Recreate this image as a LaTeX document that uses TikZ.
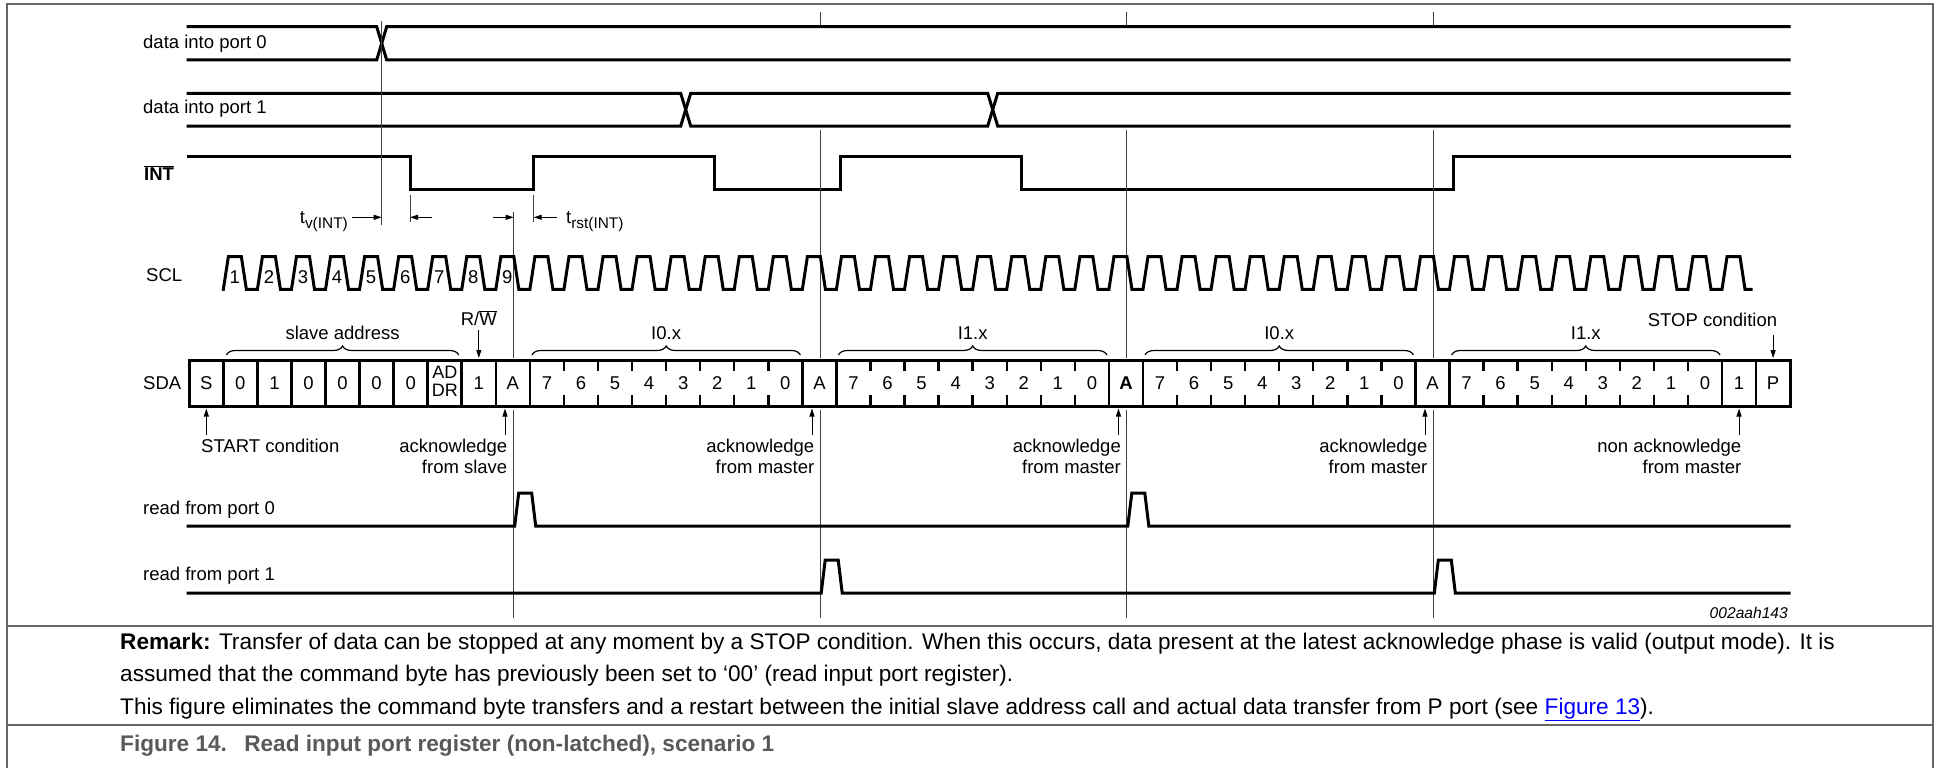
\documentclass[tikz,border=0pt]{standalone}
\usepackage{fontspec}
\setmainfont{Liberation Sans}
\usetikzlibrary{arrows.meta,decorations.pathreplacing}
\begin{document}
\begin{tikzpicture}[x=1pt,y=-1pt,
  sig/.style={line width=3pt, line join=miter, line cap=rect},
  sep/.style={line width=2.6pt},
  tick/.style={line width=2.4pt},
  guide/.style={line width=1pt, draw=black!75},
  arr/.style={line width=1pt, -{Triangle[length=8pt,width=5pt]}},
  lbl/.style={inner sep=0pt, font=\fontsize{18.5}{21}\selectfont},
  big/.style={inner sep=0pt, font=\fontsize{22.6}{26}\selectfont},
  frame/.style={line width=1.4pt, draw=black!60},
  brc/.style={line width=1.2pt, decorate, decoration={brace, amplitude=9pt}}
]
\useasboundingbox (0,0) rectangle (1937,768);
\def\xo{189.3}
\def\cw{34.06}
% frame
\draw[frame] (7,768) -- (7,4) -- (1933,4) -- (1933,768);
\draw[frame] (7,626) -- (1933,626);
\draw[frame] (7,725) -- (1933,725);

% signal labels
\node[lbl, anchor=west] (lp0) at (143,43.3) {data into port 0};
\node[lbl, anchor=west] (lp1) at (143,108.3) {data into port 1};
\node[lbl, anchor=west] (lint) at (144,173) {$\overline{\mbox{\textbf{INT}}}$};
\node[lbl, anchor=west] (lscl) at (146,275) {SCL};
\node[lbl, anchor=west] (lsda) at (143,383) {SDA};
\node[lbl, anchor=west] (lr0) at (143,510) {read from port 0};
\node[lbl, anchor=west] (lr1) at (143,576) {read from port 1};

% data into port 0
\draw[sig] (188,26.7) -- (376.7,26.7) -- (386.7,60) -- (1789,60);
\draw[sig] (188,60) -- (376.7,60) -- (386.7,26.7) -- (1789,26.7);
% data into port 1
\draw[sig] (188,93.3) -- (680.7,93.3) -- (690.7,126) -- (987.7,126) -- (997.7,93.3) -- (1789,93.3);
\draw[sig] (188,126) -- (680.7,126) -- (690.7,93.3) -- (987.7,93.3) -- (997.7,126) -- (1789,126);
% INT
\draw[sig] (188,156) -- (410,156) -- (410,189.3) -- (533.7,189.3) -- (533.7,156) -- (714,156) -- (714,189.3)
  -- (840.2,189.3) -- (840.2,156) -- (1021,156) -- (1021,189.3) -- (1453.3,189.3) -- (1453.3,156) -- (1789,156);

% guide lines
\draw[guide] (381.7,21) -- (381.7,225);
\draw[guide] (410,195) -- (410,222);
\draw[guide] (533.7,195) -- (533.7,222);
\draw[guide] (513.7,212) -- (513.7,358);
\draw[guide] (513.7,410) -- (513.7,618);
\foreach \a in {820.2,1126.8,1433.3}{
  \draw[guide] (\a,12) -- (\a,25);
  \draw[guide] (\a,130) -- (\a,358);
  \draw[guide] (\a,410) -- (\a,618);
}
% timing arrows
\draw[arr] (352,217.3) -- (381.7,217.3);
\draw[arr] (432,217.3) -- (410,217.3);
\draw[arr] (493,217.3) -- (513.7,217.3);
\draw[arr] (557,217.3) -- (533.7,217.3);
\node[lbl, anchor=base east] (tv) at (348,223.5) {t\raisebox{-5pt}{\fontsize{15.4}{15}\selectfont v(INT)}};
\node[lbl, anchor=base west] (trst) at (566,223.5) {t\raisebox{-5pt}{\fontsize{15.4}{15}\selectfont rst(INT)}};

% SCL
\draw[sig] ({\xo+\cw},289.3)
  \foreach \k in {1,...,44}{ -- ({\xo+\k*\cw+5},256.7) -- ({\xo+\k*\cw+18},256.7) -- ({\xo+\k*\cw+23},289.3) -- ({\xo+(\k+1)*\cw},289.3) }
  -- ({\xo+45*\cw+5},256.7) -- ({\xo+45*\cw+18},256.7) -- ({\xo+45*\cw+23},289.3) -- (1751,289.3);
\foreach \k in {1,...,9}{
  \node[lbl] (scl\k) at ({\xo+\k*\cw+11.5},277) {\k};
}

% SDA frame
\draw[sig] (\xo,360) rectangle ({\xo+47*\cw},406);
\foreach \k in {1,...,10,18,19,27,28,36,37,45,46}{
  \draw[sep] ({\xo+\k*\cw},360) -- ({\xo+\k*\cw},406);
}
\foreach \b in {10,19,28,37}{
  \foreach \i in {1,...,7}{
    \draw[tick] ({\xo+(\b+\i)*\cw},360) -- ({\xo+(\b+\i)*\cw},371);
    \draw[tick] ({\xo+(\b+\i)*\cw},395) -- ({\xo+(\b+\i)*\cw},406);
  }
  \foreach \i in {0,...,7}{
    \pgfmathtruncatemacro\d{7-\i}
    \node[lbl] (bit\b-\i) at ({\xo+(\b+\i+0.5)*\cw},383) {\d};
  }
}
\foreach \k/\t in {0/S,1/0,2/1,3/0,4/0,5/0,6/0,8/1,9/A,18/A,36/A,45/1,46/P}{
  \node[lbl] (cell\k) at ({\xo+(\k+0.5)*\cw},383) {\t};
}
\node[lbl] (cell27) at ({\xo+27.5*\cw},383) {\textbf{A}};
\node[lbl, font=\fontsize{18}{18}\selectfont] (ad) at ({\xo+7.5*\cw},372.3) {AD};
\node[lbl, font=\fontsize{18}{18}\selectfont] (dr) at ({\xo+7.5*\cw},390) {DR};

% braces and labels above SDA
\draw[brc] ({\xo+1*\cw+3},355) -- ({\xo+8*\cw-3},355);
\node[lbl] (slave) at ({\xo+4.5*\cw},332.7) {slave address};
\foreach \b/\t in {10/I0.x,19/I1.x,28/I0.x,37/I1.x}{
  \draw[brc] ({\xo+\b*\cw+2},355) -- ({\xo+(\b+8)*\cw-2},355);
  \node[lbl] (byte\b) at ({\xo+(\b+4)*\cw},333) {\t};
}
\node[lbl] (rw) at ({\xo+8.5*\cw},318) {R/$\overline{\mbox{W}}$};
\draw[arr] ({\xo+8.5*\cw},330) -- ({\xo+8.5*\cw},358);
\node[lbl] (stop) at (1712.5,320) {STOP condition};
\draw[arr] ({\xo+46.5*\cw},335) -- ({\xo+46.5*\cw},358);

% labels below SDA
\draw[arr] ({\xo+0.5*\cw},435) -- ({\xo+0.5*\cw},408.5);
\node[lbl, anchor=base west] (start) at (201,452.5) {START condition};
\draw[arr] (505,435) -- (505,408.5);
\node[lbl, anchor=base east] (acks1) at (507.5,452) {acknowledge};
\node[lbl, anchor=base east] (acks2) at (507.5,473) {from slave};
\foreach \a/\n in {812/1,1118.5/2,1425/3}{
  \draw[arr] (\a,435) -- (\a,408.5);
  \node[lbl, anchor=base east] (ackm\n a) at (\a+2.5,452) {acknowledge};
  \node[lbl, anchor=base east] (ackm\n b) at (\a+2.5,473) {from master};
}
\draw[arr] ({\xo+45.5*\cw},435) -- ({\xo+45.5*\cw},408.5);
\node[lbl, anchor=base east] (nack1) at (1741.5,452) {non acknowledge};
\node[lbl, anchor=base east] (nack2) at (1741.5,473) {from master};

% read from port 0 / 1
\draw[sig] (188,526) -- (514.7,526) -- (518.7,493) -- (531.7,493) -- (535.7,526) -- (1127.8,526) -- (1131.8,493) -- (1144.8,493) -- (1148.8,526) -- (1789,526);
\draw[sig] (188,593) -- (821.2,593) -- (825.2,560) -- (838.2,560) -- (842.2,593) -- (1434.3,593) -- (1438.3,560) -- (1451.3,560) -- (1455.3,593) -- (1789,593);

\node[inner sep=0pt, anchor=base east, font=\fontsize{15.6}{18}\selectfont\itshape] (code) at (1788,618.5) {002aah143};

% remark text
\node[big, anchor=base west] (rem1) at (120,649) {\textbf{Remark:} Transfer of data can be stopped at any moment by a STOP condition. When this occurs, data present at the latest acknowledge phase is valid (output mode). It is};
\node[big, anchor=base west] (rem2) at (120,681) {assumed that the command byte has previously been set to `00' (read input port register).};
\node[big, anchor=base west] (rem3) at (120,714) {This figure eliminates the command byte transfers and a restart between the initial slave address call and actual data transfer from P port (see \textcolor{blue}{\underline{Figure 13}}).};
\node[big, anchor=base west, text=black!65] (cap) at (120,751) {\textbf{Figure 14.\hspace{0.4em} Read input port register (non-latched), scenario 1}};
\end{tikzpicture}
\end{document}
